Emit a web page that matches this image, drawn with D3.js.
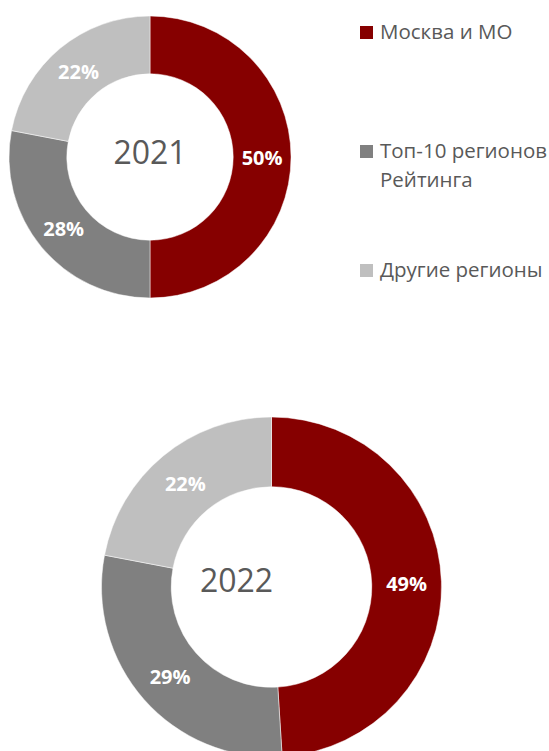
<!DOCTYPE html>
<html>
<head>
<meta charset="utf-8">
<script src="https://cdn.jsdelivr.net/npm/d3@7"></script>
<style>
	body { margin: 0; background: #fff; }
	svg { display: block; }
</style>
</head>
<body>
<script>
// data
var categories = ['Москва и МО', 'Топ-10 регионов Рейтинга', 'Другие регионы'];
var legendLines = [['Москва и МО'], ['Топ-10 регионов', 'Рейтинга'], ['Другие регионы']];
var years = ['2021', '2022'];
var values2021 = [50, 28, 22];
var values2022 = [49, 29, 22];
var colors = ['#860000', '#808080', '#bfbfbf'];

var w = 549, h = 751;

var svg = d3.select('body')
			.append('svg')
			.attr('width', w)
			.attr('height', h);

var color = d3.scaleOrdinal().domain(categories).range(colors);

// donuts (title offset: year label isn't always centred in the hole)
var charts = [
	{year: years[0], values: values2021, cx: 150, cy: 157, r: 141, tx: 0, ty: -5},
	{year: years[1], values: values2022, cx: 271.5, cy: 587, r: 170, tx: -35, ty: -7}
];

var pie = d3.pie()
			.sort(null)
			.value(function(d){ return d.value; });

for(let c of charts){
	var data = categories.map(function(name, i){
		return {name: name, value: c.values[i]};
	});
	var inner = c.r * 0.59;
	var arc = d3.arc().innerRadius(inner).outerRadius(c.r);

	var g = svg.append('g')
			   .attr('transform', 'translate(' + c.cx + ',' + c.cy + ')');

	g.selectAll('path')
	 .data(pie(data))
	 .enter()
	 .append('path')
	 .attr('d', arc)
	 .attr('fill', function(d){ return color(d.data.name); })
	 .attr('stroke', '#fff')
	 .attr('stroke-width', 0.5);

	g.selectAll('text.lbl')
	 .data(pie(data))
	 .enter()
	 .append('text')
	 .attr('class', 'lbl')
	 .attr('transform', function(d){
		 return 'translate(' + arc.centroid(d) + ')';
	 })
	 .attr('text-anchor', 'middle')
	 .attr('dy', '0.4em')
	 .style('font-family', '"Open Sans", sans-serif')
	 .style('font-weight', 'bold')
	 .style('font-size', '20px')
	 .style('fill', '#fff')
	 .text(function(d){ return d.data.value + '%'; });

	g.append('text')
	 .attr('x', c.tx)
	 .attr('y', c.ty)
	 .attr('text-anchor', 'middle')
	 .attr('dy', '0.36em')
	 .style('font-family', '"Open Sans", sans-serif')
	 .style('font-size', '32px')
	 .style('fill', '#595959')
	 .text(c.year);
}

// legend
var legendY = d3.scalePoint().domain(categories).range([39, 277]);

var legend = svg.selectAll('g.legend')
				.data(categories)
				.enter()
				.append('g')
				.attr('class', 'legend')
				.attr('transform', function(d){
					return 'translate(360,' + legendY(d) + ')';
				});

legend.append('rect')
	  .attr('x', 0)
	  .attr('y', -13)
	  .attr('width', 13)
	  .attr('height', 13)
	  .attr('fill', function(d){ return color(d); });

legend.append('text')
	  .attr('x', 20)
	  .attr('y', 0)
	  .style('font-family', '"Open Sans", sans-serif')
	  .style('font-size', '20.5px')
	  .style('fill', '#595959')
	  .each(function(d, i){
		  var t = d3.select(this);
		  legendLines[i].forEach(function(line, j){
			  t.append('tspan')
			   .attr('x', 20)
			   .attr('dy', j == 0 ? 0 : 29)
			   .text(line);
		  });
	  });
</script>
</body>
</html>
